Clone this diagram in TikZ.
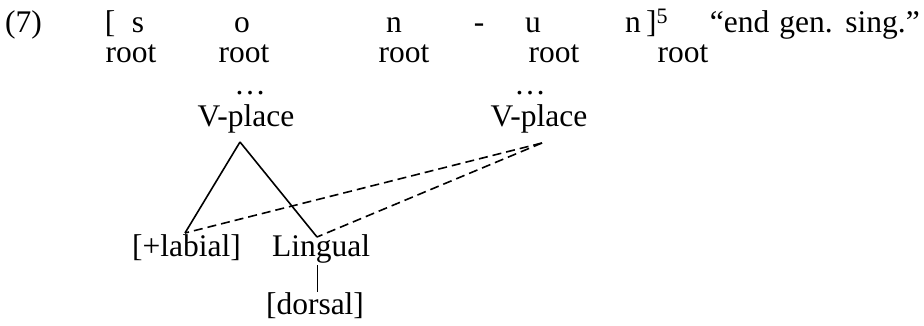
\documentclass[tikz,border=0pt]{standalone}
\usepackage{fontspec}
\setmainfont{Liberation Serif}
\usepackage{tikz}
\usetikzlibrary{positioning}

\begin{document}
\begin{tikzpicture}[
  x=1pt, y=1pt,
  txt/.style={inner sep=0pt, anchor=base, font=\fontsize{31.5}{36}\selectfont},
  assoc/.style={line width=1.6pt},
  spread/.style={line width=1.6pt, dash pattern=on 9pt off 5pt},
  stem/.style={line width=0.8pt}
]
\useasboundingbox (0,0) rectangle (924,-326);

% segment row
\node[txt, anchor=base west] (ex) at (5,-33) {(7)};
\node[txt] (lbr) at (110,-33) {[};
\node[txt] (s) at (138,-33) {s};
\node[txt] (o) at (242,-33) {o};
\node[txt] (n1) at (394,-33) {n};
\node[txt] (hy) at (479,-33) {-};
\node[txt] (u) at (533,-33) {u};
\node[txt] (n2) at (633,-33) {n};
\node[txt, anchor=base west] (rbr) at (646,-33) {]\textsuperscript{5}};
\node[txt, anchor=base east] (gloss) at (920,-33) {\spaceskip=10pt “end gen. sing.”};

% root row
\node[txt] (r1) at (131,-63) {root};
\node[txt] (r2) at (244,-63) {root};
\node[txt] (r3) at (404,-63) {root};
\node[txt] (r4) at (554,-63) {root};
\node[txt] (r5) at (683,-63) {root};

% place nodes
\node[txt] (dl) at (250,-95) {…};
\node[txt] (dr) at (530,-95) {…};
\node[txt] (vpl) at (246,-127) {V-place};
\node[txt] (vpr) at (539,-127) {V-place};
\node[txt, anchor=base east] (lab) at (241,-256) {[+labial]};
\node[txt] (ling) at (321,-256) {Lingual};
\node[txt] (dors) at (315,-314) {[dorsal]};

\coordinate (vpl-b) at (240,-142);
\coordinate (vpr-b) at (542,-143);
\coordinate (lab-t) at (185,-233);
\coordinate (ling-t) at (317,-237);
\coordinate (ling-b) at (317,-265);
\coordinate (dors-t) at (317,-292);

\draw[assoc] (vpl-b) -- (lab-t);
\draw[assoc] (vpl-b) -- (ling-t);
\draw[spread] (vpr-b) -- (lab-t);
\draw[spread] (vpr-b) -- (ling-t);
\draw[stem] (ling-b) -- (dors-t);
\end{tikzpicture}
\end{document}
